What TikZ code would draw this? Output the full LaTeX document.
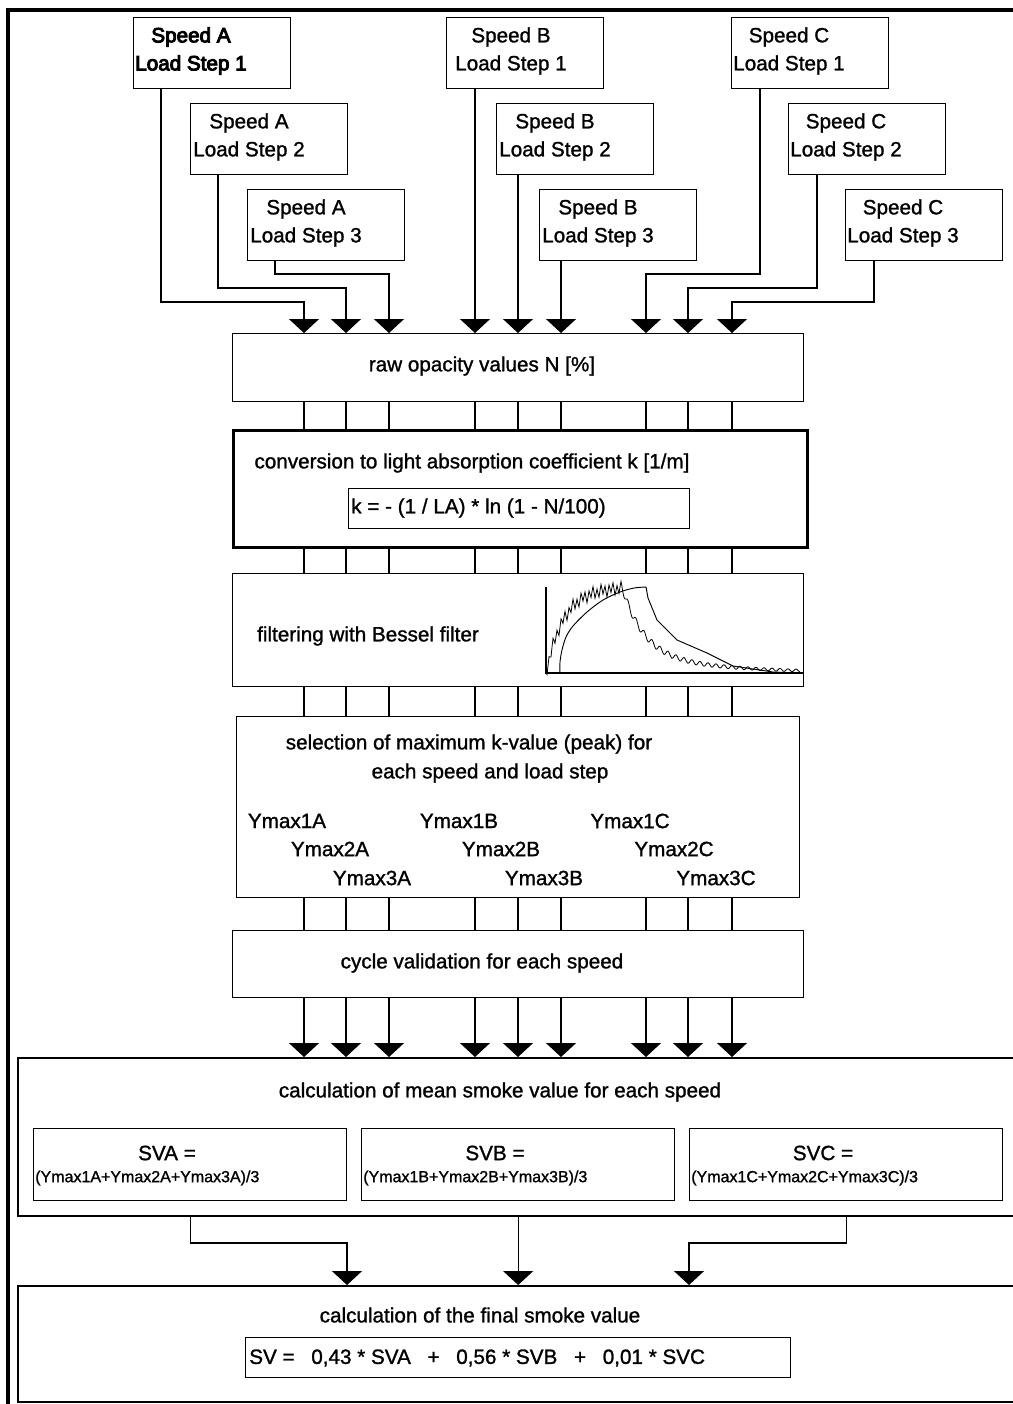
\documentclass[tikz,border=0pt]{standalone}
\usepackage{fontspec}
\setmainfont{Liberation Sans}
\newfontfamily\mainf{Liberation Sans}[FakeBold=1.2]
\newfontfamily\heavyf{Liberation Sans}[FakeBold=4.5]
\usetikzlibrary{arrows.meta,calc}
\tikzset{
  box/.style={draw, line width=1pt, anchor=north west, inner sep=0pt, fill=white},
  sbox/.style={box, minimum width=117.75pt, minimum height=53.25pt},
  conn/.style={line width=0.9pt},
  arr/.style={conn, -{Triangle[width=22.5pt,length=10.5pt]}},
  txt/.style={font=\mainf\fontsize{15.5}{21}\selectfont, inner sep=0pt},
  btxt/.style={font=\heavyf\fontsize{15.5}{21}\selectfont, inner sep=0pt},
  small/.style={font=\mainf\fontsize{12}{14}\selectfont, inner sep=0pt, anchor=west},
}
\newcommand\gap{\hspace{12.5pt}}
\begin{document}
\begin{tikzpicture}[x=0.75pt,y=-0.75pt]
\useasboundingbox (0,0) rectangle (1013,1404);
\clip (0,0) rectangle (1013,1404);
% outer frame
\draw[line width=2.4pt] (8,1420) -- (8,10) -- (1030,10);

% column coordinates
\coordinate (k1) at (304,0); \coordinate (k2) at (346,0); \coordinate (k3) at (389,0);
\coordinate (k4) at (475,0); \coordinate (k5) at (518,0); \coordinate (k6) at (561,0);
\coordinate (k7) at (646,0); \coordinate (k8) at (688,0); \coordinate (k9) at (732,0);

% top boxes
\node[sbox] (a1) at (133,17) {};
\node[sbox] (a2) at (190,103) {};
\node[sbox] (a3) at (247,189) {};
\node[sbox] (b1) at (446,17) {};
\node[sbox] (b2) at (496,103) {};
\node[sbox] (b3) at (539,189) {};
\node[sbox] (c1) at (731,17) {};
\node[sbox] (c2) at (788,103) {};
\node[sbox] (c3) at (845,189) {};

\node[btxt, align=center] (a1t) at (191,51) {Speed A\\Load Step 1};
\node[txt, align=center] (a2t) at (249,137) {Speed A\\Load Step 2};
\node[txt, align=center] (a3t) at (306,223) {Speed A\\Load Step 3};
\node[txt, align=center] (b1t) at (511,51) {Speed B\\Load Step 1};
\node[txt, align=center] (b2t) at (555,137) {Speed B\\Load Step 2};
\node[txt, align=center] (b3t) at (598,223) {Speed B\\Load Step 3};
\node[txt, align=center] (c1t) at (789,51) {Speed C\\Load Step 1};
\node[txt, align=center] (c2t) at (846,137) {Speed C\\Load Step 2};
\node[txt, align=center] (c3t) at (903,223) {Speed C\\Load Step 3};

% stage boxes
\node[box, minimum width=428.25pt, minimum height=51pt] (raw) at (232,333) {};
\node[txt] (rawt) at (482,366) {raw opacity values N [\%]};

\node[box, line width=2.2pt, minimum width=430.5pt, minimum height=87.75pt] (conv) at (232,429) {};
\node[txt] (convt) at (472,463) {conversion to light absorption coefficient k [1/m]};
\node[box, minimum width=255.75pt, minimum height=30pt] (form) at (348,488) {};
\node[txt, anchor=west] (formt) at (351,508) {k = - (1 / LA) * ln (1 - N/100)};

\node[box, minimum width=428.25pt, minimum height=84.75pt] (filt) at (232,573) {};
\node[txt] (filtt) at (368,636) {filtering with Bessel filter};

\node[box, minimum width=422.25pt, minimum height=135.75pt] (sel) at (236,716) {};
\node[txt] (selt1) at (469,744) {selection of maximum k-value (peak) for};
\node[txt] (selt2) at (490,773) {each speed and load step};
\node[txt] (y1a) at (287,821) {Ymax1A};
\node[txt] (y2a) at (330,849) {Ymax2A};
\node[txt] (y3a) at (372,878) {Ymax3A};
\node[txt] (y1b) at (459,821) {Ymax1B};
\node[txt] (y2b) at (501,849) {Ymax2B};
\node[txt] (y3b) at (544,878) {Ymax3B};
\node[txt] (y1c) at (630,821) {Ymax1C};
\node[txt] (y2c) at (674,849) {Ymax2C};
\node[txt] (y3c) at (716,878) {Ymax3C};

\node[box, minimum width=428.25pt, minimum height=50.25pt] (cyc) at (232,930) {};
\node[txt] (cyct) at (482,963) {cycle validation for each speed};

\node[box, line width=1.6pt, minimum width=752.25pt, minimum height=118.5pt] (mean) at (17,1057) {};
\node[txt] (meant) at (500,1092) {calculation of mean smoke value for each speed};
\node[box, minimum width=234.75pt, minimum height=54pt] (sva) at (33,1128) {};
\node[box, minimum width=234.75pt, minimum height=54pt] (svb) at (361,1128) {};
\node[box, minimum width=234.75pt, minimum height=54pt] (svc) at (689,1128) {};
\node[txt] (svat) at (167,1153) {SVA =};
\node[txt] (svbt) at (495,1153) {SVB =};
\node[txt] (svct) at (823,1153) {SVC =};
\node[small] (svaf) at (35,1178) {(Ymax1A+Ymax2A+Ymax3A)/3};
\node[small] (svbf) at (363,1178) {(Ymax1B+Ymax2B+Ymax3B)/3};
\node[small] (svcf) at (691,1178) {(Ymax1C+Ymax2C+Ymax3C)/3};

\node[box, line width=1.6pt, minimum width=752.25pt, minimum height=87pt] (fin) at (17,1285) {};
\node[txt] (fint) at (480,1315) {calculation of the final smoke value};
\node[box, minimum width=408.75pt, minimum height=30pt] (fform) at (245,1337) {};
\node[txt, anchor=west] (fformt) at (249,1358) {SV =\gap 0,43 * SVA\gap +\gap 0,56 * SVB\gap +\gap 0,01 * SVC};

% plot in filter box
\draw[line width=0.8pt] (546,587) -- (546,673) -- (803,673);
\draw[line width=0.7pt] plot[smooth, tension=0.5] coordinates {(560,673) (560,662) (562,650) (566,637) (573,626) (587,612) (603,600) (620,592) (634,588) (646,587)}
  -- (648,598) -- (657,620) -- (677,640) -- (707,653) -- (733,666) -- (773,672) -- (800,673);
\draw[line width=0.6pt] plot[domain=546:622, samples=77] (\x, {673-86*(1-exp(-(\x-546)/18)) + 5*sin(90*(\x-546)) + 2*sin(37*(\x-546))})
  -- plot[domain=622:800, samples=179] (\x, {673-68*exp(-(\x-622)/22)-18*exp(-(\x-622)/90) + (1+3*exp(-(\x-622)/80))*sin(45*(\x-622))});

% connectors from top boxes
\draw[arr] ($(a1.south west)+(28,0)$) |- ($(k1)+(0,302)$) -- (k1 |- raw.north);
\draw[arr] ($(a2.south west)+(28,0)$) |- ($(k2)+(0,288)$) -- (k2 |- raw.north);
\draw[arr] ($(a3.south west)+(28,0)$) |- ($(k3)+(0,274)$) -- (k3 |- raw.north);
\draw[arr] (k4 |- b1.south) -- (k4 |- raw.north);
\draw[arr] (k5 |- b2.south) -- (k5 |- raw.north);
\draw[arr] (k6 |- b3.south) -- (k6 |- raw.north);
\draw[arr] ($(c1.south west)+(29,0)$) |- ($(k7)+(0,274)$) -- (k7 |- raw.north);
\draw[arr] ($(c2.south west)+(29,0)$) |- ($(k8)+(0,288)$) -- (k8 |- raw.north);
\draw[arr] ($(c3.south west)+(29,0)$) |- ($(k9)+(0,302)$) -- (k9 |- raw.north);

% stage links
\foreach \k in {k1,k2,k3,k4,k5,k6,k7,k8,k9}{
  \draw[conn] (\k |- raw.south) -- (\k |- conv.north);
  \draw[conn] (\k |- conv.south) -- (\k |- filt.north);
  \draw[conn] (\k |- filt.south) -- (\k |- sel.north);
  \draw[conn] (\k |- sel.south) -- (\k |- cyc.north);
  \draw[arr] (\k |- cyc.south) -- (\k |- mean.north);
}

% mean to final
\coordinate (fa) at (347,1243);
\coordinate (fc) at (689,1243);
\draw[arr] (sva.south |- mean.south) |- (fa) -- (fa |- fin.north);
\draw[arr] (svb.south |- mean.south) -- (svb.south |- fin.north);
\draw[arr] (svc.south |- mean.south) |- (fc) -- (fc |- fin.north);
\end{tikzpicture}
\end{document}
